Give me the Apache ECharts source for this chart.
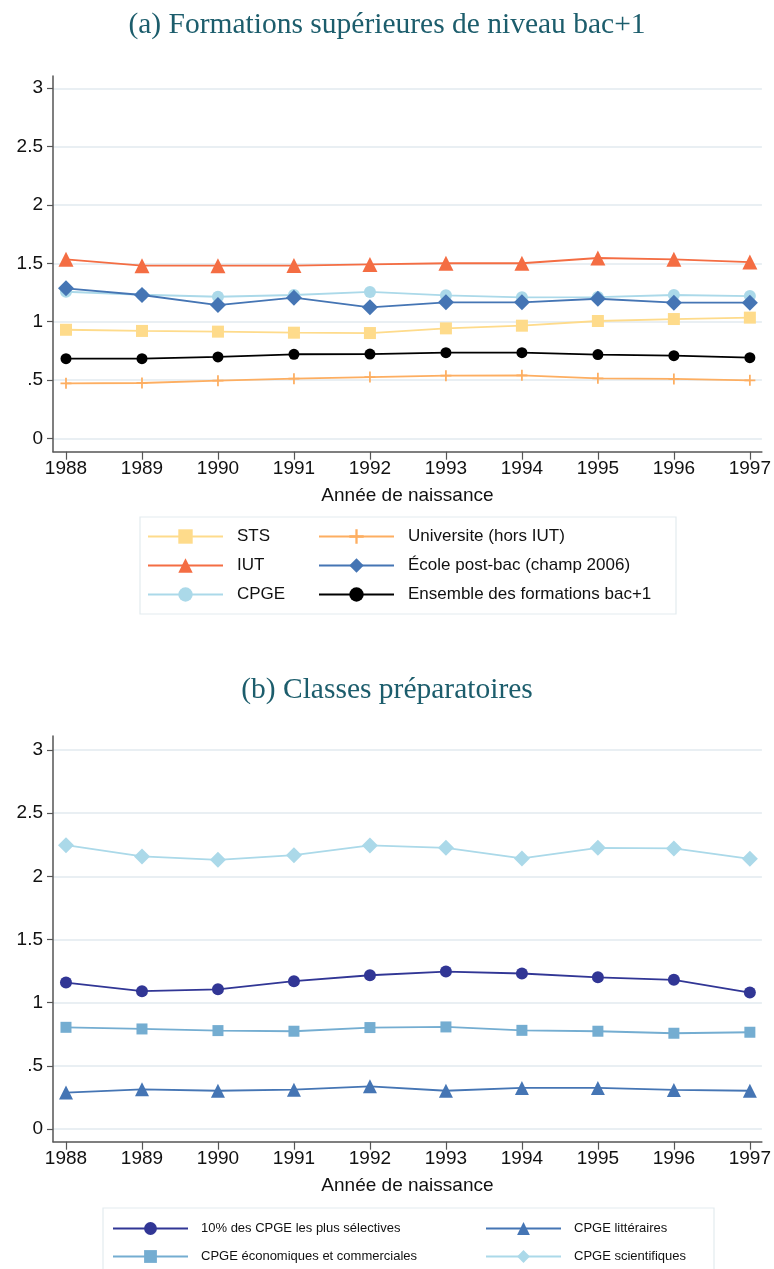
<!DOCTYPE html>
<html>
<head>
<meta charset="utf-8">
<script src="https://cdn.jsdelivr.net/npm/echarts@6/dist/echarts.min.js"></script>
<style>
  html, body { margin: 0; padding: 0; background: #fff; }
  #chart { width: 774px; height: 1269px; }
</style>
</head>
<body>
<div id="chart"></div>
<script>
// années de naissance
const years = [1988, 1989, 1990, 1991, 1992, 1993, 1994, 1995, 1996, 1997]
const yTicks = [0, 0.5, 1, 1.5, 2, 2.5, 3]

// (a) formations bac+1
const sts = [0.93, 0.92, 0.914, 0.905, 0.902, 0.942, 0.965, 1.005, 1.022, 1.034]
const univ = [0.471, 0.474, 0.494, 0.511, 0.525, 0.537, 0.54, 0.514, 0.509, 0.497]
const iut = [1.534, 1.479, 1.479, 1.48, 1.49, 1.5, 1.5, 1.545, 1.534, 1.51]
const ecole = [1.285, 1.228, 1.142, 1.205, 1.122, 1.165, 1.165, 1.196, 1.162, 1.162]
const cpge = [1.256, 1.23, 1.213, 1.228, 1.254, 1.225, 1.208, 1.21, 1.228, 1.219]
const ensemble = [0.682, 0.682, 0.697, 0.72, 0.722, 0.734, 0.734, 0.717, 0.708, 0.691]

// (b) classes préparatoires
const top10 = [1.159, 1.091, 1.106, 1.17, 1.217, 1.246, 1.231, 1.201, 1.181, 1.08]
const litt = [0.288, 0.314, 0.303, 0.311, 0.338, 0.303, 0.325, 0.325, 0.309, 0.303]
const eco = [0.805, 0.792, 0.779, 0.774, 0.803, 0.808, 0.781, 0.774, 0.758, 0.766]
const sci = [2.247, 2.158, 2.131, 2.168, 2.245, 2.226, 2.142, 2.226, 2.221, 2.139]

const SANS = 'Liberation Sans'
const plusPath = 'path://M4.2,0H5.8V4.2H10V5.8H5.8V10H4.2V5.8H0V4.2H4.2Z'

const chart = echarts.init(document.getElementById('chart'))

function pairs(arr) {
  return years.map((y, i) => [y, arr[i]])
}

function yLabel(v) {
  if (v === 0) return '0'
  const s = String(v)
  return s.startsWith('0.') ? s.slice(1) : s
}

function xAxisFor(gridIndex) {
  return {
    type: 'value',
    gridIndex,
    min: 1987.829,
    max: 1997.158,
    name: 'Année de naissance',
    nameLocation: 'middle',
    nameGap: 35,
    nameTextStyle: { fontFamily: SANS, fontSize: 19, color: '#111' },
    axisLine: { onZero: false, lineStyle: { color: '#555', width: 1.5 } },
    axisTick: { customValues: years, length: 8, lineStyle: { color: '#555', width: 1.2 } },
    axisLabel: { customValues: years, margin: 8, fontFamily: SANS, fontSize: 19, color: '#111', formatter: v => String(v) },
    splitLine: { show: false },
  }
}

function yAxisFor(gridIndex, min, max) {
  return {
    type: 'value',
    gridIndex,
    min,
    max,
    axisLine: { show: true, onZero: false, lineStyle: { color: '#555', width: 1.5 } },
    axisTick: { show: true, customValues: yTicks, length: 6, lineStyle: { color: '#555', width: 1.2 } },
    axisLabel: { customValues: yTicks, margin: 10, fontFamily: SANS, fontSize: 19, color: '#111', formatter: yLabel },
    splitLine: { show: true, lineStyle: { color: '#e9eff3', width: 2 } },
  }
}

function line(name, data, color, symbol, size, axis) {
  return {
    name,
    type: 'line',
    xAxisIndex: axis,
    yAxisIndex: axis,
    data: pairs(data),
    symbol,
    symbolSize: size,
    showAllSymbol: true,
    lineStyle: { color, width: 1.8 },
    itemStyle: { color, borderWidth: 0 },
    emphasis: { disabled: true },
    animation: false,
    z: 3,
  }
}

function legendCol(names, left, top, fontSize, iconH, gap, textPad) {
  return {
    orient: 'vertical',
    left,
    top,
    data: names,
    itemWidth: 75,
    itemHeight: iconH,
    itemGap: gap,
    padding: 0,
    selectedMode: false,
    textStyle: { fontFamily: SANS, fontSize, color: '#111', padding: [0, 0, 0, textPad] },
  }
}

const option = {
  backgroundColor: '#fff',
  animation: false,
  title: [
    {
      text: '(a) Formations supérieures de niveau bac+1',
      left: 'center',
      top: 5,
      textStyle: { fontFamily: 'Liberation Serif', fontWeight: 'normal', fontSize: 29.5, color: '#1c5d6c' },
    },
    {
      text: '(b) Classes préparatoires',
      left: 'center',
      top: 670,
      textStyle: { fontFamily: 'Liberation Serif', fontWeight: 'normal', fontSize: 29.5, color: '#1c5d6c' },
    },
  ],
  grid: [
    { left: 53, right: 12, top: 76, bottom: 817.3, containLabel: false },
    { left: 53, right: 12, top: 736, bottom: 127.3, containLabel: false },
  ],
  xAxis: [xAxisFor(0), xAxisFor(1)],
  yAxis: [yAxisFor(0, -0.115, 3.105), yAxisFor(1, -0.1005, 3.111)],
  legend: [
    legendCol(['STS', 'IUT', 'CPGE'], 147, 528, 17, 18, 12, 9),
    legendCol(['Universite (hors IUT)', 'École post-bac (champ 2006)', 'Ensemble des formations bac+1'], 318, 528, 17, 18, 12, 9),
    legendCol(['10% des CPGE les plus sélectives', 'CPGE économiques et commerciales'], 112, 1222, 13, 16, 15, 8),
    legendCol(['CPGE littéraires', 'CPGE scientifiques'], 485, 1222, 13, 16, 15, 8),
  ],
  graphic: [
    { type: 'rect', z: -1, shape: { x: 140, y: 517, width: 536, height: 97 }, style: { fill: '#fff', stroke: '#e3ebef', lineWidth: 1.2 } },
    { type: 'rect', z: -1, shape: { x: 103, y: 1208, width: 611, height: 70 }, style: { fill: '#fff', stroke: '#e3ebef', lineWidth: 1.2 } },
  ],
  series: [
    line('STS', sts, '#fedb8b', 'rect', 12, 0),
    line('IUT', iut, '#f46d43', 'triangle', 15, 0),
    line('CPGE', cpge, '#abd9e9', 'circle', 12, 0),
    line('Universite (hors IUT)', univ, '#fdae61', plusPath, 11, 0),
    line('École post-bac (champ 2006)', ecole, '#4575b4', 'diamond', 16, 0),
    line('Ensemble des formations bac+1', ensemble, '#000000', 'circle', 11, 0),
    line('10% des CPGE les plus sélectives', top10, '#313695', 'circle', 12, 1),
    line('CPGE économiques et commerciales', eco, '#74add1', 'rect', 11, 1),
    line('CPGE littéraires', litt, '#4575b4', 'triangle', 14, 1),
    line('CPGE scientifiques', sci, '#abd9e9', 'diamond', 16, 1),
  ],
}

chart.setOption(option)
window.addEventListener('resize', () => chart.resize())
</script>
</body>
</html>
